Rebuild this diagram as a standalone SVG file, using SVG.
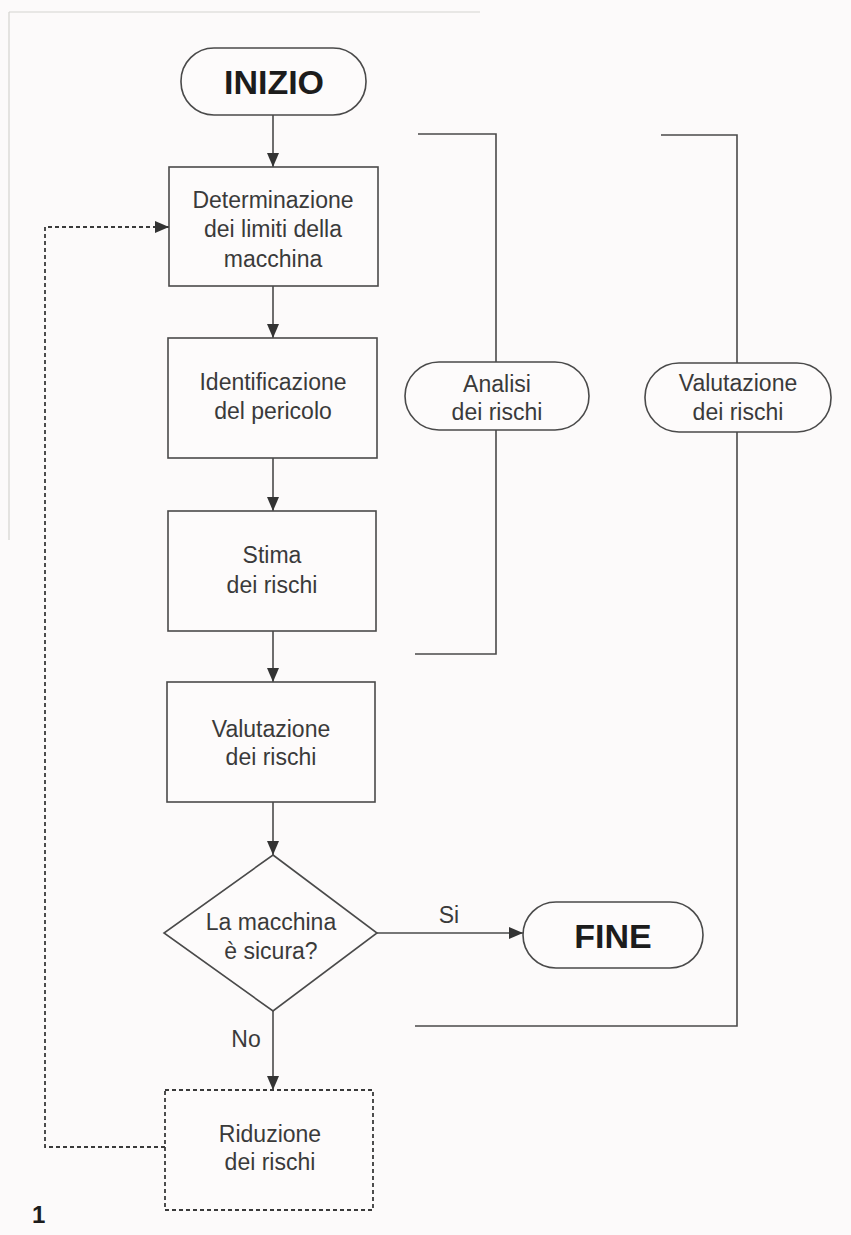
<svg xmlns="http://www.w3.org/2000/svg" width="851" height="1235" viewBox="0 0 851 1235">
<defs>
<style>
.ln{fill:none;stroke:#4a4a4a;stroke-width:1.6}
.dash{fill:none;stroke:#3a3a3a;stroke-width:1.8;stroke-dasharray:4 3}
.box{fill:#fdfbfb;stroke:#4a4a4a;stroke-width:1.6}
.dbox{fill:#fdfbfb;stroke:#3a3a3a;stroke-width:1.8;stroke-dasharray:4 3}
.t{font-family:"Liberation Sans",Arial,sans-serif;font-size:23px;fill:#3a3a3a;text-anchor:middle}
.big{font-family:"Liberation Sans",Arial,sans-serif;font-size:34px;font-weight:bold;fill:#1c1c1c;text-anchor:middle}
</style>
<marker id="ah" markerUnits="userSpaceOnUse" markerWidth="14" markerHeight="12" refX="14" refY="6" orient="auto">
<path d="M0,0 L14,6 L0,12 z" fill="#333"/>
</marker>
</defs>
<rect x="0" y="0" width="851" height="1235" fill="#fcfafa"/>
<path d="M9,12 H480 M9,12 V540" fill="none" stroke="#d4d4d0" stroke-width="1.2"/>

<g id="connectors">
<line class="ln" x1="273" y1="115" x2="273" y2="167" marker-end="url(#ah)"/>
<line class="ln" x1="273" y1="286" x2="273" y2="338" marker-end="url(#ah)"/>
<line class="ln" x1="273" y1="458" x2="273" y2="511" marker-end="url(#ah)"/>
<line class="ln" x1="273" y1="631" x2="273" y2="682" marker-end="url(#ah)"/>
<line class="ln" x1="273" y1="802" x2="273" y2="855" marker-end="url(#ah)"/>
<line class="ln" x1="273" y1="1011" x2="273" y2="1090" marker-end="url(#ah)"/>
<line class="ln" x1="377" y1="933" x2="523" y2="933" marker-end="url(#ah)"/>
<path class="dash" d="M165,1147 H45 V227 H169" marker-end="url(#ah)"/>
<text class="t" x="449" y="923">Si</text>
<text class="t" x="246" y="1047">No</text>
</g>

<g id="bracket-analisi">
<path class="ln" d="M418,134 H496 V654 H415"/>
</g>
<g id="bracket-valutazione">
<path class="ln" d="M661,135 H737 V1026 H415"/>
</g>

<g id="inizio">
<rect class="box" x="181" y="48" width="185" height="67" rx="33" ry="33"/>
<text class="big" x="274" y="94">INIZIO</text>
</g>

<g id="determinazione">
<rect class="box" x="169" y="167" width="209" height="119"/>
<text class="t" x="273" y="208">Determinazione</text>
<text class="t" x="273" y="237">dei limiti della</text>
<text class="t" x="273" y="267">macchina</text>
</g>

<g id="identificazione">
<rect class="box" x="168" y="338" width="209" height="120"/>
<text class="t" x="273" y="390">Identificazione</text>
<text class="t" x="273" y="419">del pericolo</text>
</g>

<g id="stima">
<rect class="box" x="168" y="511" width="208" height="120"/>
<text class="t" x="272" y="563">Stima</text>
<text class="t" x="272" y="593">dei rischi</text>
</g>

<g id="valutazione">
<rect class="box" x="167" y="682" width="208" height="120"/>
<text class="t" x="271" y="737">Valutazione</text>
<text class="t" x="271" y="765">dei rischi</text>
</g>

<g id="decisione">
<polygon class="box" points="273,855 377,933 273,1011 164,933"/>
<text class="t" x="271" y="930">La macchina</text>
<text class="t" x="271" y="959">è sicura?</text>
</g>

<g id="fine">
<rect class="box" x="523" y="902" width="180" height="66" rx="33" ry="33"/>
<text class="big" x="613" y="948">FINE</text>
</g>

<g id="riduzione">
<rect class="dbox" x="165" y="1090" width="208" height="120"/>
<text class="t" x="270" y="1142">Riduzione</text>
<text class="t" x="270" y="1170">dei rischi</text>
</g>

<g id="analisi-label">
<rect class="box" x="405" y="362" width="184" height="68" rx="34" ry="34"/>
<text class="t" x="497" y="392">Analisi</text>
<text class="t" x="497" y="420">dei rischi</text>
</g>

<g id="valutazione-label">
<rect class="box" x="645" y="363" width="186" height="69" rx="34" ry="34"/>
<text class="t" x="738" y="391">Valutazione</text>
<text class="t" x="738" y="420">dei rischi</text>
</g>

<text x="32" y="1223" font-family="Liberation Sans, Arial, sans-serif" font-size="24" font-weight="bold" fill="#1c1c1c">1</text>
</svg>
